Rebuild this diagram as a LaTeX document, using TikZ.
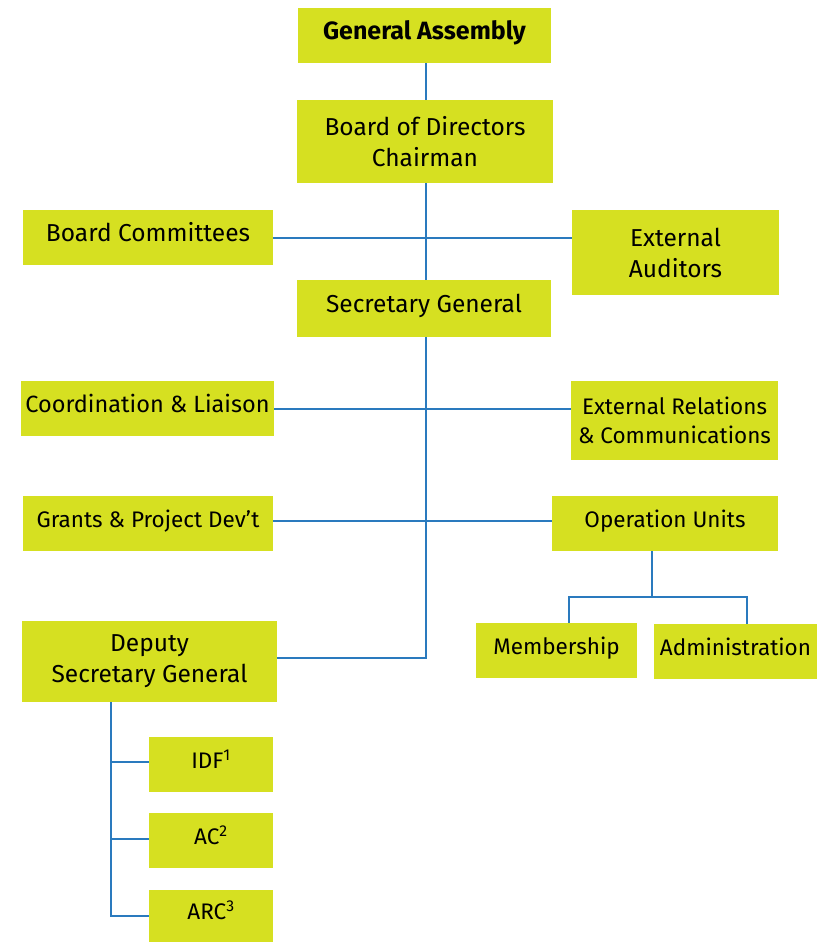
\documentclass[tikz,border=0pt]{standalone}
\usepackage{fontspec}
\setmainfont{Fira Sans}
\usepackage{tikz}
\usetikzlibrary{calc}
\definecolor{unitgreen}{RGB}{214,224,33}
\definecolor{linkblue}{RGB}{42,122,190}
\tikzset{
  unit/.style={fill=unitgreen, inner sep=0pt, align=center, font=\fontsize{24.5}{31}\selectfont},
  small/.style={font=\fontsize{22.5}{29}\selectfont},
  oneline/.style={text height=17pt, text depth=10pt},
  link/.style={draw=linkblue, line width=2pt},
}

\begin{document}
\begin{tikzpicture}[x=1pt, y=-1pt]
\useasboundingbox (0,0) rectangle (817,943);
% top of the chart
\path (424.5,35.5) node[unit, oneline, minimum width=253pt, minimum height=55pt, font=\fontsize{25}{31}\selectfont\bfseries] (ga) {General Assembly};
\path (425,141.5) node[unit, minimum width=256pt, minimum height=83pt] (bod) {Board of Directors\\Chairman};
\path (148,237.5) node[unit, oneline, minimum width=250pt, minimum height=55pt] (committees) {Board Committees};
\path (675.5,252.5) node[unit, minimum width=207pt, minimum height=85pt] (auditors) {External\\Auditors};
\path (424,308.5) node[unit, oneline, minimum width=254pt, minimum height=57pt] (sg) {Secretary General};
% middle
\path (147.5,408.5) node[unit, oneline, minimum width=253pt, minimum height=55pt, font=\fontsize{23.5}{31}\selectfont] (coord) {Coordination \& Liaison};
\path (674.5,420.5) node[unit, small, minimum width=207pt, minimum height=79pt] (extrel) {External Relations\\\& Communications};
\path (148,523.5) node[unit, small, oneline, minimum width=250pt, minimum height=55pt] (grants) {Grants \& Project Dev’t};
\path (665,523.5) node[unit, small, oneline, minimum width=226pt, minimum height=55pt] (ops) {Operation Units};
\path (556.5,650.5) node[unit, small, oneline, minimum width=161pt, minimum height=55pt] (member) {Membership};
\path (735.5,651.5) node[unit, small, oneline, minimum width=163pt, minimum height=55pt] (admin) {Administration};
% deputy and its units
\path (149.5,661.5) node[unit, minimum width=255pt, minimum height=81pt] (deputy) {Deputy\\Secretary General};
\path (211,764.5) node[unit, small, oneline, minimum width=124pt, minimum height=55pt] (idf) {IDF\textsuperscript{1}};
\path (211,840.5) node[unit, small, oneline, minimum width=124pt, minimum height=55pt] (ac) {AC\textsuperscript{2}};
\path (211,916) node[unit, small, oneline, minimum width=124pt, minimum height=52pt] (arc) {ARC\textsuperscript{3}};

\draw[link] ([xshift=1.5pt]ga.south) -- ([xshift=1pt]bod.north);
\draw[link] ([xshift=1pt]bod.south) -- ([xshift=2pt]sg.north);
\draw[link] ([yshift=-0.5pt]committees.east) -- ([yshift=-0.5pt]committees.east -| auditors.west);
\draw[link] ([xshift=2pt]sg.south) |- ([yshift=4pt]deputy.east);
\draw[link] ([yshift=-0.5pt]coord.east) -- ([yshift=-0.5pt]coord.east -| extrel.west);
\draw[link] ([yshift=3pt]grants.east) -- ([yshift=3pt]ops.west);
\draw[link] ([xshift=-13pt]ops.south) -- ++(0,46) -| ([xshift=12.5pt]member.north);
\draw[link] ([xshift=-13pt]ops.south) ++(0,46) -| ([xshift=11.5pt]admin.north);
\draw[link] ([xshift=-38.5pt]deputy.south) |- ([yshift=2.5pt]idf.west);
\draw[link] ([xshift=-38.5pt]deputy.south) |- ([yshift=1.5pt]ac.west);
\draw[link] ([xshift=-38.5pt]deputy.south) |- (arc.west);
\end{tikzpicture}
\end{document}
